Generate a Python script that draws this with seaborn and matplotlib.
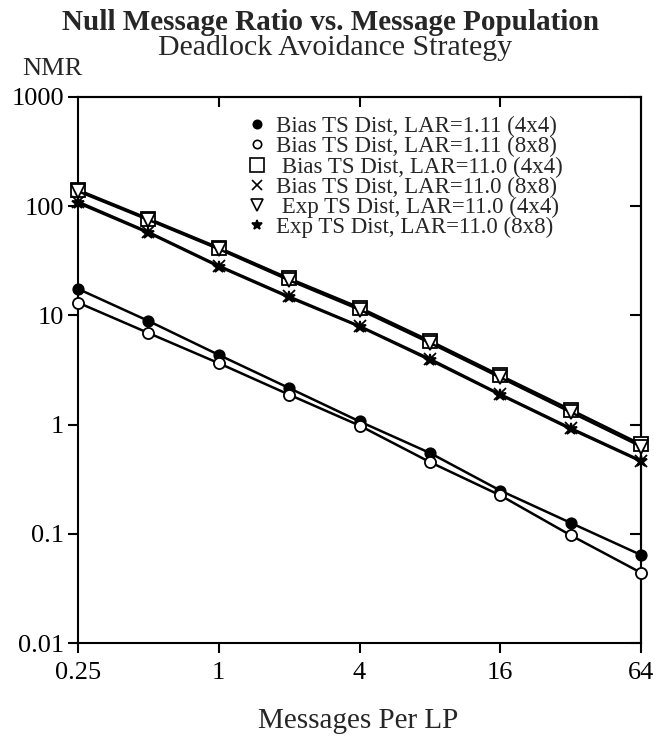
import numpy as np
import pandas as pd
import matplotlib
matplotlib.use("Agg")
import matplotlib.pyplot as plt
from matplotlib.lines import Line2D
from matplotlib.ticker import NullLocator
import seaborn as sns

# Messages per LP (x) and null message ratio for each configuration
msgs_per_lp = [0.25, 0.5, 1, 2, 4, 8, 16, 32, 64]
bias_111_4x4 = [17.5, 8.9, 4.35, 2.16, 1.07, 0.55, 0.249, 0.126, 0.064]
bias_111_8x8 = [13.1, 6.9, 3.65, 1.88, 0.98, 0.454, 0.225, 0.097, 0.044]
bias_110_4x4 = [141, 77, 41.7, 21.8, 11.8, 5.85, 2.82, 1.37, 0.66]
bias_110_8x8 = [110, 58, 28.5, 14.9, 8.0, 4.0, 1.90, 0.93, 0.468]
exp_110_4x4 = [137, 75, 40.5, 21.0, 11.3, 5.6, 2.70, 1.30, 0.63]
exp_110_8x8 = [107, 57, 28.0, 14.6, 7.9, 3.9, 1.87, 0.91, 0.46]

labels = [
    "Bias TS Dist, LAR=1.11 (4x4)",
    "Bias TS Dist, LAR=1.11 (8x8)",
    " Bias TS Dist, LAR=11.0 (4x4)",
    "Bias TS Dist, LAR=11.0 (8x8)",
    " Exp TS Dist, LAR=11.0 (4x4)",
    "Exp TS Dist, LAR=11.0 (8x8)",
]
x_ticks = [0.25, 1, 4, 16, 64]
x_ticklabels = ["0.25", "1", "4", "16", "64"]
y_ticks = [1000, 100, 10, 1, 0.1, 0.01]
y_ticklabels = ["1000", "100", "10", "1", "0.1", "0.01"]

series = [bias_111_4x4, bias_111_8x8, bias_110_4x4,
          bias_110_8x8, exp_110_4x4, exp_110_8x8]

# marker, face colour, size on the curve, size in the legend
styles = [
    ("o", "black", 7.5, 6.0),
    ("o", "white", 8.0, 6.0),
    ("s", "white", 10.5, 9.5),
    ("x", "black", 8.5, 7.5),
    ("v", "white", 9.5, 9.0),
    ("*", "black", 9.0, 7.0),
]

sns.set_theme(style="ticks")
plt.rcParams["font.family"] = ["Liberation Serif", "DejaVu Serif"]
plt.rcParams["axes.linewidth"] = 1.5

W, H = 658, 739
fig = plt.figure(figsize=(W / 100, H / 100), dpi=100)
L, R, T, B = 78, 641, 97, 643
ax = fig.add_axes([L / W, 1 - B / H, (R - L) / W, (B - T) / H])

for vals, lab, (mk, fc, ms, _) in zip(series, labels, styles):
    df = pd.DataFrame({"x": msgs_per_lp, "y": vals})
    sns.lineplot(data=df, x="x", y="y", ax=ax, color="black", linewidth=1.8,
                 marker=mk, markersize=ms, markerfacecolor=fc,
                 markeredgecolor="black", markeredgewidth=1.3,
                 clip_on=False, legend=False, zorder=3)

ax.set_xscale("log", base=2)
ax.set_yscale("log")
ax.set_xlim(0.25, 64)
ax.set_ylim(0.01, 1000)
ax.set_xticks(x_ticks, labels=x_ticklabels)
ax.set_yticks(y_ticks, labels=y_ticklabels)
ax.xaxis.set_minor_locator(NullLocator())
ax.yaxis.set_minor_locator(NullLocator())
ax.set_xlabel("")
ax.set_ylabel("")
for s in ax.spines.values():
    s.set_color("black")
    s.set_linewidth(1.5)
ax.tick_params(axis="both", which="major", direction="out", length=7,
               width=1.5, color="black", labelsize=19, labelcolor="black")
ax.tick_params(axis="x", pad=7)
ax.tick_params(axis="y", pad=3)

# inward ticks on the top and right edges
top = ax.secondary_xaxis("top")
top.set_xticks([1, 4, 16])
top.xaxis.set_minor_locator(NullLocator())
top.tick_params(direction="in", length=7, width=1.5, color="black",
                labeltop=False)
right = ax.secondary_yaxis("right")
right.set_yticks(y_ticks)
right.yaxis.set_minor_locator(NullLocator())
right.tick_params(direction="in", length=8, width=1.5, color="black",
                  labelright=False)

handles = [Line2D([], [], linestyle="none", marker=mk, markersize=lms,
                  markerfacecolor=fc, markeredgecolor="black",
                  markeredgewidth=1.2)
           for (mk, fc, _, lms) in styles]
leg = ax.legend(handles, labels, loc="upper left",
                bbox_to_anchor=(248 / W, 1 - 116 / H),
                bbox_transform=fig.transFigure, frameon=False,
                fontsize=16.5, handlelength=0.8, handletextpad=0.4,
                labelspacing=-0.04, borderpad=0, borderaxespad=0)

fig.text(331 / W, 1 - 30 / H, "Null Message Ratio vs. Message Population",
         ha="center", va="baseline", fontsize=21, fontweight="bold")
fig.text(335 / W, 1 - 55 / H, "Deadlock Avoidance Strategy",
         ha="center", va="baseline", fontsize=21.5)
fig.text(52 / W, 1 - 75 / H, "NMR", ha="center", va="baseline", fontsize=19)
fig.text(358 / W, 1 - 728 / H, "Messages Per LP", ha="center",
         va="baseline", fontsize=21)

fig.savefig("out.png", dpi=100, facecolor="white")
